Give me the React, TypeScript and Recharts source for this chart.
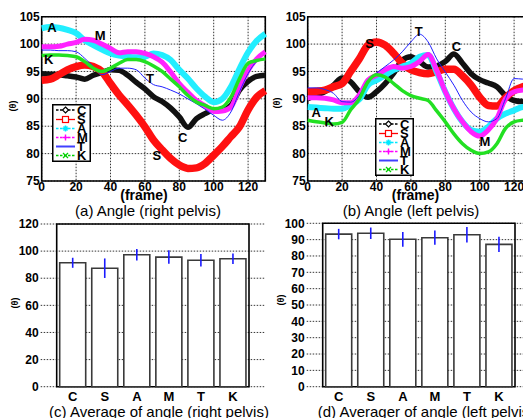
import React from "react";
import {
  LineChart,
  Line,
  BarChart,
  Bar,
  ErrorBar,
  XAxis,
  YAxis,
  CartesianGrid,
  ReferenceArea,
  ReferenceDot,
  Legend,
} from "recharts";

// frame numbers (x axis of the angle plots)
const frames = [0, 5, 10, 15, 20, 25, 30, 35, 40, 45, 50, 55, 60, 65, 70, 75, 80, 85, 90, 95, 100, 105, 110, 115, 120, 125, 130];

// (a) right pelvis
const rightC = [94.6, 94.5, 94.4, 94.2, 94.0, 93.6, 94.3, 94.8, 95.3, 95.2, 94.3, 93.0, 91.8, 90.4, 89.5, 88.3, 86.7, 84.8, 86.4, 87.3, 88.0, 88.0, 88.8, 91.6, 93.2, 94.1, 94.3];
const rightS = [93.4, 93.6, 94.4, 95.3, 95.9, 96.2, 95.9, 95.0, 92.8, 90.7, 88.9, 87.0, 84.9, 82.5, 80.7, 79.1, 77.9, 77.3, 77.4, 78.2, 79.7, 81.3, 83.1, 84.9, 88.0, 90.3, 91.5];
const rightA = [102.9, 103.1, 103.0, 102.6, 102.0, 100.7, 99.8, 99.0, 98.3, 97.9, 97.7, 97.6, 97.7, 98.3, 98.0, 97.1, 95.3, 93.7, 91.9, 90.4, 89.4, 90.0, 92.2, 95.5, 98.5, 100.6, 101.9];
const rightM = [99.5, 99.5, 99.6, 100.0, 100.3, 100.9, 100.7, 100.0, 99.2, 98.4, 98.6, 98.6, 98.3, 97.7, 96.7, 94.9, 92.8, 91.2, 89.7, 88.7, 87.7, 87.8, 88.5, 92.0, 95.2, 97.3, 98.6];
const rightT = [98.9, 98.9, 98.8, 98.8, 98.6, 97.4, 95.9, 94.4, 95.0, 95.6, 95.6, 95.3, 93.8, 92.6, 92.2, 91.6, 90.9, 90.0, 89.1, 88.1, 87.0, 86.1, 87.6, 91.3, 94.6, 96.8, 97.4];
const rightK = [97.9, 98.0, 98.0, 97.9, 97.7, 96.8, 95.6, 95.0, 95.6, 96.5, 97.2, 97.2, 96.8, 96.0, 95.0, 93.6, 92.2, 90.6, 89.4, 88.8, 88.2, 88.5, 90.3, 93.7, 96.5, 97.0, 97.3];

// (b) left pelvis
const leftC = [90.0, 90.7, 91.3, 92.5, 93.8, 93.1, 91.3, 90.3, 91.3, 92.8, 94.7, 97.1, 97.7, 96.8, 95.8, 96.0, 96.8, 98.2, 96.5, 94.6, 93.5, 92.9, 92.2, 90.6, 89.7, 89.5, 89.5];
const leftS = [91.3, 91.4, 91.6, 92.2, 92.8, 95.0, 97.3, 99.8, 100.4, 99.8, 98.3, 96.5, 95.3, 94.8, 94.6, 95.0, 95.4, 95.4, 94.2, 92.5, 90.3, 88.8, 88.7, 90.2, 91.5, 92.2, 92.5];
const leftA = [88.5, 88.4, 88.3, 88.2, 88.2, 88.9, 89.9, 92.5, 93.4, 94.3, 95.3, 95.9, 96.5, 97.7, 98.0, 94.9, 91.3, 88.2, 85.8, 84.3, 84.0, 84.9, 86.4, 87.3, 87.9, 88.5, 88.6];
const leftM = [90.2, 90.2, 90.1, 89.8, 89.3, 89.3, 90.7, 93.4, 94.3, 95.3, 95.9, 95.6, 95.9, 96.8, 98.1, 95.2, 91.3, 88.2, 85.8, 84.0, 83.2, 84.3, 86.4, 90.0, 91.3, 91.6, 91.7];
const leftT = [92.0, 92.0, 91.7, 91.0, 89.5, 89.4, 90.6, 93.4, 94.7, 95.9, 97.1, 98.6, 100.4, 101.8, 100.4, 97.3, 94.9, 92.5, 89.7, 87.6, 86.4, 85.8, 86.4, 90.0, 93.7, 93.6, 93.5];
const leftK = [86.1, 85.8, 85.6, 85.4, 85.7, 88.0, 90.0, 93.1, 94.4, 94.0, 92.8, 91.5, 90.6, 90.1, 89.7, 87.8, 85.8, 83.6, 81.8, 80.6, 80.0, 80.3, 81.8, 84.6, 85.8, 86.1, 86.2];

// (c)/(d) averages
const subjects = ["C", "S", "A", "M", "T", "K"];
const rightMean = [91.4, 87.4, 97.3, 95.6, 93.3, 94.4];
const rightErr = [3.7, 7.2, 4.3, 5.0, 4.6, 3.9];
const leftMean = [93.4, 93.9, 90.2, 91.2, 93.0, 87.1];
const leftErr = [3.2, 3.5, 4.5, 4.4, 4.8, 4.6];

const frameTicks = [0, 20, 40, 60, 80, 100, 120];
const angleTicks = [75, 80, 85, 90, 95, 100, 105];

const FONT = "'Liberation Sans', Arial, Helvetica, sans-serif";
const tickStyle = { fontSize: 12, fontWeight: "bold", fill: "#000", fontFamily: FONT };

const seriesStyle: Record<string, { color: string; width: number }> = {
  C: { color: "#111111", width: 5.5 },
  S: { color: "#ff1010", width: 7.5 },
  A: { color: "#22eeff", width: 6 },
  M: { color: "#ff22ff", width: 5 },
  T: { color: "#2020ff", width: 1 },
  K: { color: "#22e022", width: 3.5 },
};

function makeRows(c, s, a, m, t, k) {
  return frames.map((f, i) => ({ frame: f, C: c[i], S: s[i], A: a[i], M: m[i], T: t[i], K: k[i] }));
}

const rightData = makeRows(rightC, rightS, rightA, rightM, rightT, rightK);
const leftData = makeRows(leftC, leftS, leftA, leftM, leftT, leftK);

const rightNotes = [
  { t: "A", f: 6, v: 103.1 },
  { t: "M", f: 34, v: 101.5 },
  { t: "K", f: 4, v: 97.2 },
  { t: "T", f: 63, v: 93.8 },
  { t: "C", f: 82, v: 82.9 },
  { t: "S", f: 67, v: 79.7 },
];
const leftNotes = [
  { t: "S", f: 36, v: 100.1 },
  { t: "T", f: 64.5, v: 102.4 },
  { t: "C", f: 86.5, v: 99.5 },
  { t: "A", f: 5, v: 87.6 },
  { t: "K", f: 12.5, v: 85.8 },
  { t: "M", f: 103, v: 82.2 },
];

const barRows = (means, errs) => subjects.map((s, i) => ({ name: s, mean: means[i], err: errs[i] }));

// small marker drawn in the legend
const Marker = ({ k, x, y, color }) => {
  if (k === "C") return <polygon points={`${x},${y - 3} ${x + 3},${y} ${x},${y + 3} ${x - 3},${y}`} fill="#fff" stroke={color} strokeWidth={1.2} />;
  if (k === "S") return <rect x={x - 3} y={y - 3} width={6} height={6} fill="#fff" stroke={color} strokeWidth={1.2} />;
  if (k === "A")
    return (
      <g stroke={color} strokeWidth={1.6}>
        <line x1={x - 3} y1={y} x2={x + 3} y2={y} />
        <line x1={x} y1={y - 3} x2={x} y2={y + 3} />
        <line x1={x - 2} y1={y - 2} x2={x + 2} y2={y + 2} />
        <line x1={x - 2} y1={y + 2} x2={x + 2} y2={y - 2} />
      </g>
    );
  if (k === "M")
    return (
      <g stroke={color} strokeWidth={1.4}>
        <line x1={x - 3} y1={y} x2={x + 3} y2={y} />
        <line x1={x} y1={y - 3} x2={x} y2={y + 3} />
      </g>
    );
  if (k === "K")
    return (
      <g stroke={color} strokeWidth={1.2}>
        <line x1={x - 2.5} y1={y - 2.5} x2={x + 2.5} y2={y + 2.5} />
        <line x1={x - 2.5} y1={y + 2.5} x2={x + 2.5} y2={y - 2.5} />
      </g>
    );
  return null;
};

const LegendBox = () => {
  const rows = [6, 15.5, 24.5, 33.5, 42.5, 51.5];
  return (
    <svg width={39} height={58} style={{ display: "block" }}>
      <rect x={0.75} y={0.75} width={37.5} height={56.5} fill="#fff" stroke="#000" strokeWidth={1.5} />
      {subjects.map((k, i) => {
        const dashed = k === "C" || k === "A" || k === "M" || k === "K";
        const stroke = k === "C" ? "#000" : k === "S" ? "#ff0000" : k === "A" ? "#00e8ff" : k === "M" ? "#ff00ff" : k === "T" ? "#4040ff" : "#00d000";
        return (
          <g key={k}>
            <line x1={4} y1={rows[i]} x2={23} y2={rows[i]} stroke={stroke} strokeWidth={k === "T" ? 2 : 1.3} strokeDasharray={dashed ? "2.5 1.5" : undefined} />
            <Marker k={k} x={13.5} y={rows[i]} color={stroke} />
            <text x={25} y={rows[i] + 4.5} fontSize={13} fontWeight="bold" fontFamily={FONT} fill="#000">
              {k}
            </text>
          </g>
        );
      })}
    </svg>
  );
};

function AngleChart({ data, notes, legendLeft, legendTop }) {
  return (
    <LineChart width={280} height={200} data={data} margin={{ top: 16.7, right: 14.7, bottom: 0, left: 0 }}>
      <CartesianGrid stroke="#000" strokeDasharray="1.5 1.5" strokeWidth={0.8} />
      <XAxis dataKey="frame" type="number" domain={[0, 130]} ticks={frameTicks} interval={0} tickLine={false} tickSize={0} axisLine={false} tick={tickStyle} tickMargin={1.5} height={19} />
      <YAxis type="number" domain={[75, 105]} ticks={angleTicks} interval={0} tickLine={false} tickSize={0} axisLine={false} tick={tickStyle} tickMargin={2} width={41.7} />
      <ReferenceArea y1={75} y2={105} fill="none" fillOpacity={0} stroke="#000" strokeWidth={1.6} />
      {subjects.map((k) => (
        <Line
          key={k}
          type="monotone"
          dataKey={k}
          stroke={seriesStyle[k].color}
          strokeWidth={seriesStyle[k].width}
          dot={false}
          activeDot={false}
          isAnimationActive={false}
        />
      ))}
      {notes.map((n, i) => (
        <ReferenceDot
          key={i}
          x={n.f}
          y={n.v}
          r={0}
          fill="none"
          stroke="none"
          label={{ value: n.t, position: "center", fontSize: 13, fontWeight: "bold", fill: "#000", fontFamily: FONT }}
        />
      ))}
      <Legend
        layout="vertical"
        align="center"
        verticalAlign="middle"
        content={<LegendBox />}
        wrapperStyle={{ left: legendLeft, top: legendTop, width: 39, height: 58 }}
      />
    </LineChart>
  );
}

function MeanChart({ data, max, step, top, left }) {
  const ticks = [];
  for (let v = 0; v <= max; v += step) ticks.push(v);
  return (
    <BarChart width={280} height={207} data={data} margin={{ top, right: 280 - 224.3 - left, bottom: 0, left: 0 }} barSize={26}>
      <CartesianGrid vertical={false} stroke="#000" strokeDasharray="1.5 1.5" strokeWidth={0.8} />
      <XAxis dataKey="name" padding={{ left: 16, right: 16 }} interval={0} tickLine={false} tickSize={0} axisLine={false} tick={{ ...tickStyle, fontSize: 13 }} tickMargin={5} height={20.3} />
      <YAxis type="number" domain={[0, max]} ticks={ticks} interval={0} tickLine={false} tickSize={0} axisLine={false} tick={tickStyle} tickMargin={2} width={left} />
      <ReferenceArea y1={0} y2={max} fill="none" fillOpacity={0} stroke="#000" strokeWidth={1.6} />
      <Bar dataKey="mean" fill="#fff" stroke="#3a3a3a" strokeWidth={1.6} isAnimationActive={false}>
        <ErrorBar dataKey="err" width={0} stroke="#1a1aff" strokeWidth={1.6} />
      </Bar>
    </BarChart>
  );
}

const abs = (left: number, top: number): React.CSSProperties => ({ position: "absolute", left, top });

const Caption = ({ x, y, text, bold = false, size = 13 }) => (
  <div
    style={{
      position: "absolute",
      left: x,
      top: y,
      transform: "translate(-50%, -50%)",
      whiteSpace: "nowrap",
      fontFamily: FONT,
      fontSize: size,
      fontWeight: bold ? "bold" : "normal",
      lineHeight: 1,
      color: "#000",
    }}
  >
    {text}
  </div>
);

const ThetaLabel = ({ x, y }) => (
  <div
    style={{
      position: "absolute",
      left: x,
      top: y,
      transform: "translate(-50%, -50%) rotate(-90deg)",
      whiteSpace: "nowrap",
      fontFamily: FONT,
      fontSize: 9,
      fontWeight: "bold",
      lineHeight: 1,
    }}
  >
    (θ)
  </div>
);

export default function App() {
  return (
    <div style={{ position: "absolute", left: 0, top: 0, width: 523, height: 418, overflow: "hidden", background: "#fff" }}>
      <div style={abs(0, 0)}>
        <AngleChart data={rightData} notes={rightNotes} legendLeft={52} legendTop={104} />
      </div>
      <div style={abs(266, 0)}>
        <AngleChart data={leftData} notes={leftNotes} legendLeft={109} legendTop={118} />
      </div>
      <div style={abs(0, 200)}>
        <MeanChart data={barRows(rightMean, rightErr)} max={120} step={20} top={24} left={40.7} />
      </div>
      <div style={abs(266, 200)}>
        <MeanChart data={barRows(leftMean, leftErr)} max={100} step={10} top={23.3} left={40.7} />
      </div>

      <ThetaLabel x={13} y={106} />
      <ThetaLabel x={277} y={103} />
      <ThetaLabel x={15} y={303} />
      <ThetaLabel x={281} y={300} />

      <Caption x={144} y={194.5} text="(frame)" bold size={14} />
      <Caption x={415.5} y={194.5} text="(frame)" bold size={14} />
      <Caption x={148} y={210} text="(a) Angle (right pelvis)" size={15} />
      <Caption x={411} y={210} text="(b) Angle (left pelvis)" size={15} />
      <Caption x={159} y={411} text="(c) Average of angle (right pelvis)" size={15} />
      <Caption x={426} y={411} text="(d) Averager of angle (left pelvis)" size={15} />
    </div>
  );
}
